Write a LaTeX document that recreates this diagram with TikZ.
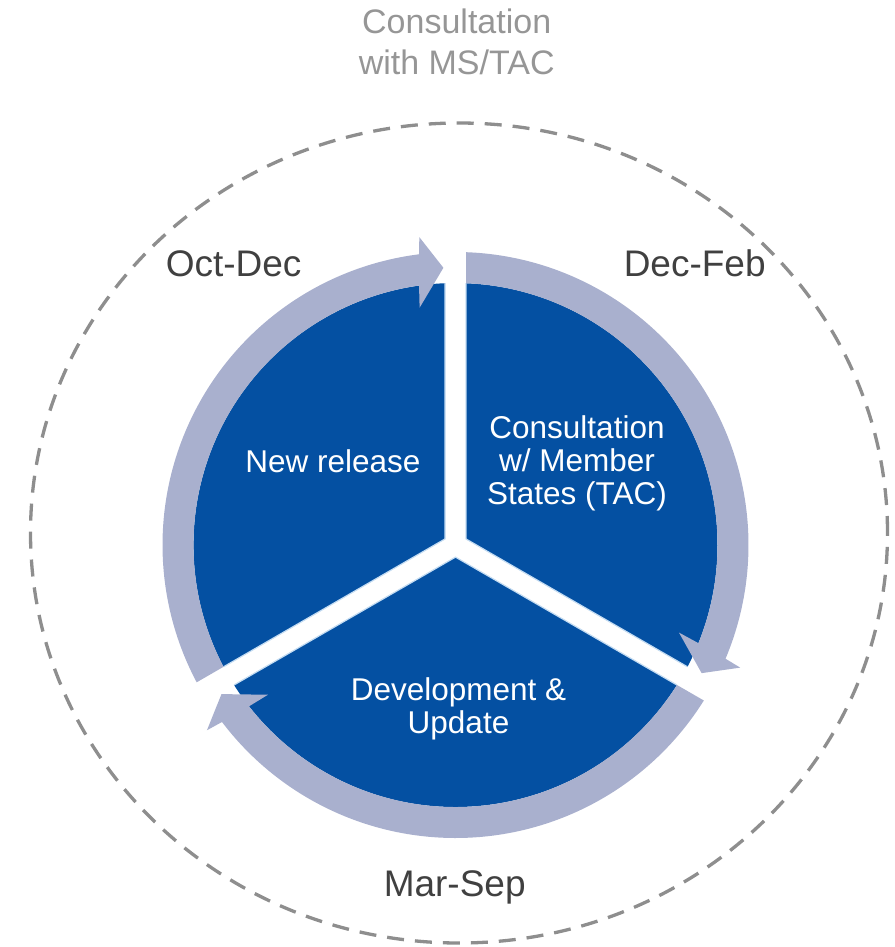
\documentclass[tikz,border=0pt]{standalone}
\usepackage{fontspec}
\setmainfont{Liberation Sans}
\definecolor{segblue}{HTML}{0450A2}
\definecolor{bandcol}{HTML}{A9B0CE}
\definecolor{edgecol}{HTML}{C4DCF2}
\definecolor{dashcol}{HTML}{8E8E8E}
\definecolor{toptxt}{HTML}{969696}
\definecolor{lbltxt}{HTML}{404040}
\begin{document}
\begin{tikzpicture}[x=1pt,y=1pt,
  outerlbl/.style={text=lbltxt,font=\fontsize{37}{44}\selectfont,anchor=base,inner sep=0pt},
  toplbl/.style={text=toptxt,font=\fontsize{34}{41}\selectfont,anchor=base,inner sep=0pt},
  innerlbl/.style={text=white,font=\fontsize{31.5}{33}\selectfont,anchor=base,inner sep=0pt},
  ring/.style={dashcol,line width=3.3pt,dash pattern=on 17pt off 11pt},
  segfill/.style={fill=segblue},
  bandfill/.style={fill=bandcol},
  gapedge/.style={edgecol,line width=1.2pt}]
\useasboundingbox (0,0) rectangle (894,-947);
\draw[ring] (459,-533) ellipse [x radius=428.5pt, y radius=410pt];

\begin{scope}[shift={(455.5,-545)}]
\foreach \S in {90,210,330} {
  \pgfmathsetmacro\E{\S-120}
  \pgfmathsetmacro\Bis{\S-60}
  \pgfmathsetmacro\Sa{\S-2.297}
  \pgfmathsetmacro\Sb{\S-2.054}
  \pgfmathsetmacro\Ea{\E+2.297}
  \pgfmathsetmacro\Eo{\E+7.16}
  \pgfmathsetmacro\Ei{\E+8.0}
  \pgfmathsetmacro\Co{\E+6.7}
  \pgfmathsetmacro\Ci{\E+8.6}
  \pgfmathsetmacro\Tp{\E+2.5}
  \path[segfill] (\Bis:12.12) -- (\Sa:262) arc[start angle=\Sa, end angle=\Ea, radius=262pt] -- cycle;
  \draw[gapedge] (\Sa:262) -- (\Bis:12.12) -- (\Ea:262);
  \path[bandfill] (\Sb:293) arc[start angle=\Sb, end angle=\Eo, radius=293pt]
     -- (\Co:310) -- (\Tp:277.5) -- (\Ci:240) -- (\Ei:262)
     arc[start angle=\Ei, end angle=\Sa, radius=262pt] -- cycle;
}
\end{scope}

\node[toplbl] (topa) at (456.7,-34) {Consultation};
\node[toplbl] (topb) at (456.7,-75) {with MS/TAC};
\node[outerlbl] (octdec) at (233.6,-276) {Oct-Dec};
\node[outerlbl] (decfeb) at (694.7,-276) {Dec-Feb};
\node[outerlbl] (marsep) at (454.7,-896) {Mar-Sep};
\node[innerlbl] (newrel) at (333,-472) {New release};
\node[innerlbl] (consa) at (577,-438.3) {Consultation};
\node[innerlbl] (consb) at (577,-471.9) {w/ Member};
\node[innerlbl] (consc) at (577,-504.7) {States (TAC)};
\node[innerlbl] (deva) at (458.5,-700.4) {Development \&};
\node[innerlbl] (devb) at (458.5,-733.2) {Update};
\end{tikzpicture}
\end{document}
